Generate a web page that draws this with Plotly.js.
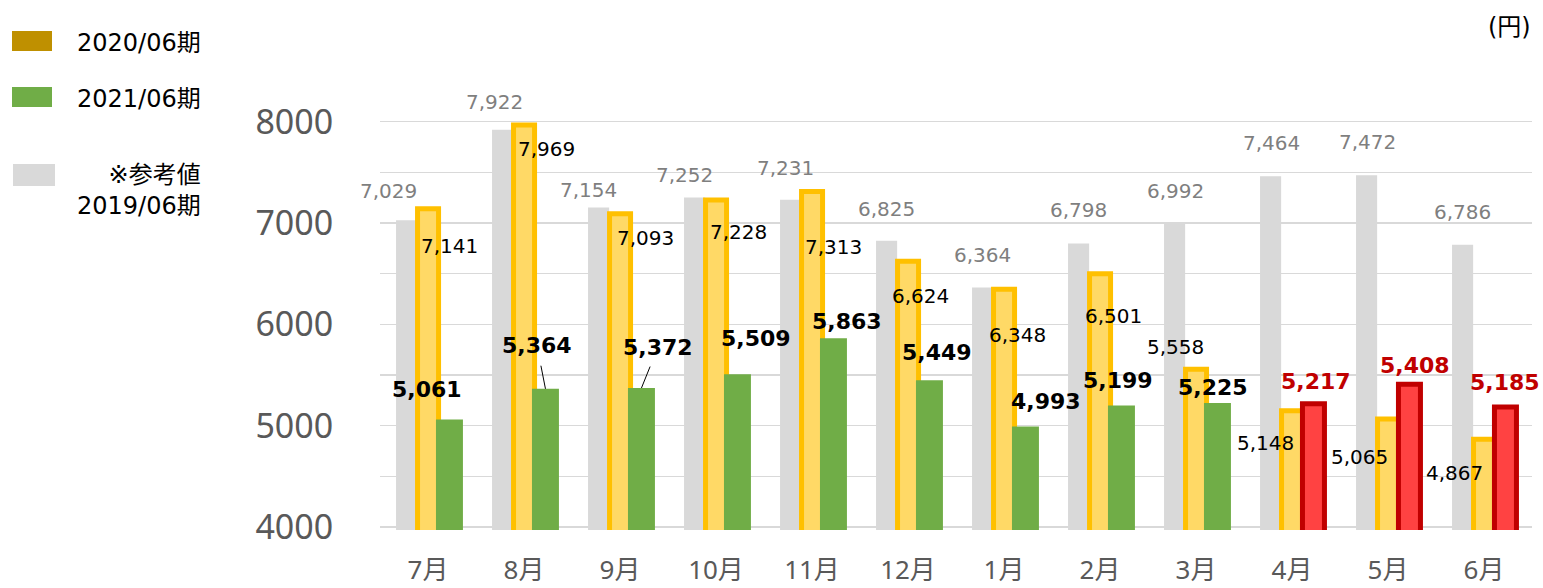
<!DOCTYPE html>
<html>
<head>
<meta charset="utf-8">
<script src="https://cdn.plot.ly/plotly-3.0.1.min.js"></script>
<style>html,body{margin:0;padding:0;background:#fff;}#chart{width:1543px;height:588px;}</style>
</head>
<body>
<div id="chart"></div>
<script>
// ---- data ----
const categories = ['7月','8月','9月','10月','11月','12月','1月','2月','3月','4月','5月','6月'];
const fy2019 = [7029,7922,7154,7252,7231,6825,6364,6798,6992,7464,7472,6786];
const fy2020 = [7141,7969,7093,7228,7313,6624,6348,6501,5558,5148,5065,4867];
const fy2021Cats = ['7月','8月','9月','10月','11月','12月','1月','2月','3月'];
const fy2021 = [5061,5364,5372,5509,5863,5449,4993,5199,5225];
const fy2021RedCats = ['4月','5月','6月'];
const fy2021Red = [5217,5408,5185];
const legendLabels = ['2020/06期','2021/06期','※参考値<br>2019/06期'];
const unitLabel = '(円)';

// ---- label placement (pixels: dx from category centre, dy from bar top, + = down) ----
const greyDx = [-40,-30,-32,-32,-27,-22,-22,-22,-21,-21,-21,-22];
const greyDy = [-29,-28,-18,-23,-32,-32,-33,-34,-33,-33,-33,-33];
const yelDx = [21,22,25,22,21,12,13,13,-21,-27,-29,-30];
const yelDy = [37,24,24,32,56,35,46,42,-22,32,38,34];
const grnDx = [-1,13,38,40,35,29,42,18,17];
const grnDy = [-30,-43,-41,-36,-17,-28,-25,-25,-15];
const grnArrow = [false,true,true,false,false,false,false,false,false];
const redDx = [24,27,21];
const redDy = [-22,-19,-24];

// ---- geometry ----
const W = 1543, H = 588;
const ML = 380, MR = 11, MT = 71, MB = 58;
const PW = W - ML - MR, PH = H - MT - MB;
const px2x = p => (p - ML) / PW;
const py2y = p => (H - MB - p) / PH;
const greenCenterOffset = (0.083 + 0.281/2) * (PW / 12);

const latin = 'DejaVu Sans, Noto Sans CJK JP, sans-serif';
const axisFont = 'Noto Sans, Noto Sans CJK JP, sans-serif';

const traces = [
  {type:'bar', x:categories, y:fy2019, width:0.22, offset:-0.333,
   marker:{color:'#D9D9D9', line:{width:0}}, hoverinfo:'y', name:'2019/06期'},
  {type:'bar', x:categories, y:fy2020, width:0.219, offset:-0.109,
   marker:{color:'#FFD966', line:{color:'#FFC000', width:5}}, hoverinfo:'y', name:'2020/06期'},
  {type:'bar', x:fy2021Cats, y:fy2021, width:0.281, offset:0.083,
   marker:{color:'#70AD47', line:{width:0}}, hoverinfo:'y', name:'2021/06期'},
  {type:'bar', x:fy2021RedCats, y:fy2021Red, width:0.229, offset:0.109,
   marker:{color:'#FF4242', line:{color:'#C00000', width:5}}, hoverinfo:'y', name:'2021/06期 '}
];

const fmt = v => v.toLocaleString('en-US');
const annotations = [];
categories.forEach((c,i) => {
  annotations.push({x:c, y:fy2019[i], xref:'x', yref:'y', text:fmt(fy2019[i]), showarrow:false,
    xshift:greyDx[i], yshift:-greyDy[i], xanchor:'center', yanchor:'middle',
    font:{family:latin, size:20, color:'#7F7F7F'}});
  annotations.push({x:c, y:fy2020[i], xref:'x', yref:'y', text:fmt(fy2020[i]), showarrow:false,
    xshift:yelDx[i], yshift:-yelDy[i], xanchor:'center', yanchor:'middle',
    font:{family:latin, size:20, color:'#000000'}});
});
fy2021Cats.forEach((c,i) => {
  const base = {x:c, y:fy2021[i], xref:'x', yref:'y', text:fmt(fy2021[i]),
    font:{family:latin, size:22, color:'#000000', weight:'bold'}};
  if (grnArrow[i]) {
    annotations.push(Object.assign(base, {showarrow:true, arrowhead:0, arrowwidth:1, arrowcolor:'#000',
      xshift:greenCenterOffset, ax:grnDx[i]-greenCenterOffset, ay:grnDy[i], standoff:0, startstandoff:6}));
  } else {
    annotations.push(Object.assign(base, {showarrow:false, xshift:grnDx[i], yshift:-grnDy[i],
      xanchor:'center', yanchor:'middle'}));
  }
});
fy2021RedCats.forEach((c,i) => {
  annotations.push({x:c, y:fy2021Red[i], xref:'x', yref:'y', text:fmt(fy2021Red[i]), showarrow:false,
    xshift:redDx[i], yshift:-redDy[i], xanchor:'center', yanchor:'middle',
    font:{family:latin, size:22, color:'#C00000', weight:'bold'}});
});

// legend (drawn manually)
const legendColors = ['#BF9000','#70AD47','#D9D9D9'];
const legendRects = [[12,31,52,51],[12,87,52,107],[13,164,55,186]];
const legendTextY = [43,99,190];
const shapes = [];
legendRects.forEach((r,i) => {
  shapes.push({type:'rect', xref:'paper', yref:'paper', x0:px2x(r[0]), x1:px2x(r[2]),
    y0:py2y(r[3]), y1:py2y(r[1]), fillcolor:legendColors[i], line:{width:0}, layer:'above'});
  annotations.push({xref:'paper', yref:'paper', x:px2x(203), y:py2y(legendTextY[i]),
    text:legendLabels[i], showarrow:false, xanchor:'right', yanchor:'middle', align:'right',
    font:{family:latin, size:24, color:'#000000'}});
});
annotations.push({xref:'paper', yref:'paper', x:px2x(1533), y:py2y(27), text:unitLabel,
  showarrow:false, xanchor:'right', yanchor:'middle', font:{family:latin, size:24, color:'#000'}});

const layout = {
  width:W, height:H,
  margin:{l:ML, r:MR, t:MT, b:MB, pad:0},
  paper_bgcolor:'#ffffff', plot_bgcolor:'#ffffff',
  barmode:'overlay',
  showlegend:false,
  xaxis:{type:'category', categoryorder:'array', categoryarray:categories,
    range:[-0.5, categories.length - 0.5],
    showgrid:false, zeroline:false, showline:false,
    ticks:'outside', ticklen:17, tickcolor:'rgba(0,0,0,0)',
    tickfont:{family:axisFont, size:26, color:'#595959'}, fixedrange:true},
  yaxis:{range:[3970,8502], tick0:4000, dtick:1000, zeroline:false, showline:false,
    showgrid:true, gridcolor:'#D9D9D9', gridwidth:1.3,
    minor:{dtick:500, tick0:4000, showgrid:true, gridcolor:'#D9D9D9', gridwidth:1.3},
    ticks:'outside', ticklen:39, tickcolor:'rgba(0,0,0,0)',
    tickfont:{family:axisFont, size:34, color:'#595959'}, fixedrange:true},
  annotations:annotations,
  shapes:shapes
};

Plotly.newPlot('chart', traces, layout, {displayModeBar:false, staticPlot:true});
</script>
</body>
</html>
